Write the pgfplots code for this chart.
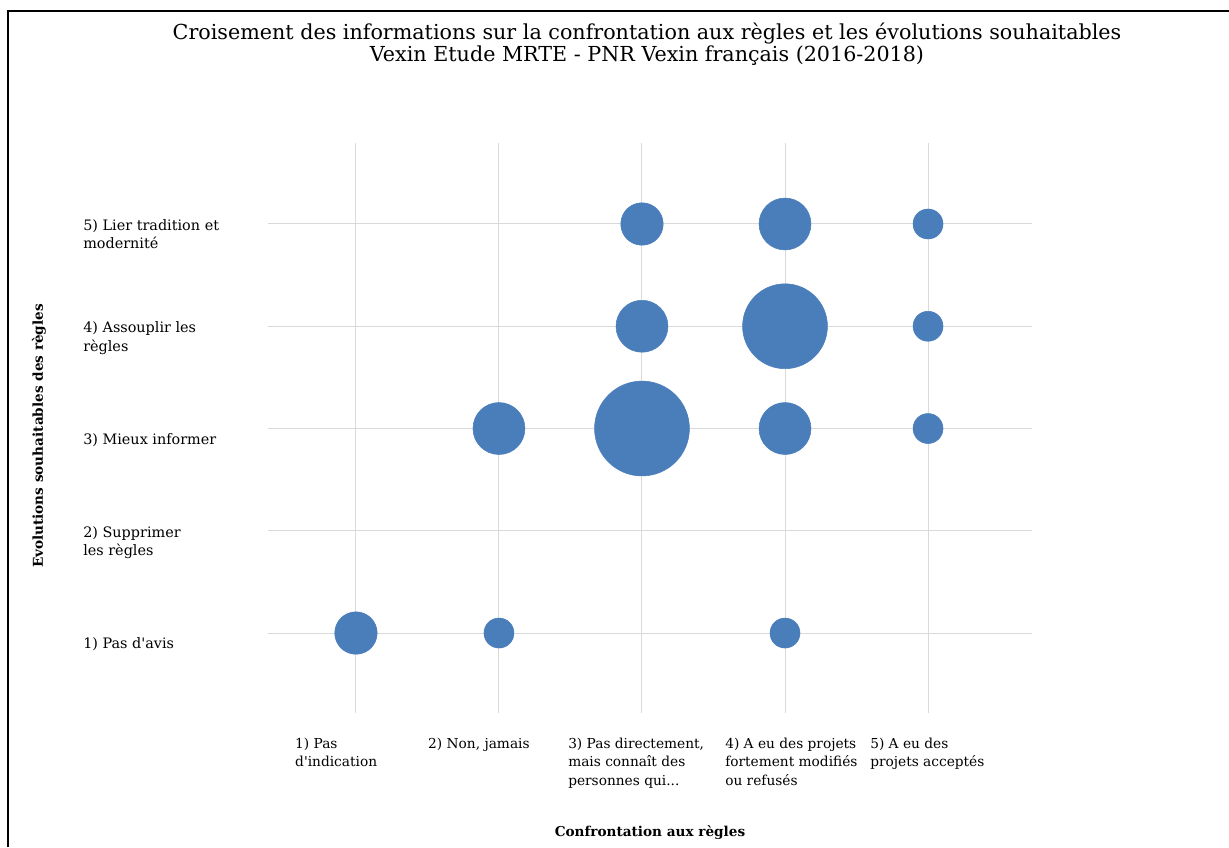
\documentclass[border=0pt]{standalone}
\usepackage{fontspec}
\setmainfont{DejaVu Serif}
\usepackage{pgfplots}
\pgfplotsset{compat=1.18}
\definecolor{bubble}{HTML}{4A7EBB}
\definecolor{gridc}{HTML}{D9D9D9}
\newcommand{\xl}[2]{\hspace*{#1}\begin{tabular}[t]{@{}l@{}}#2\end{tabular}}
\newcommand{\yl}[1]{\begin{tabular}{@{}l@{}}#1\end{tabular}}
\pgfplotstableread{
x y v
1 1 2
2 1 1
4 1 1
2 3 3
3 3 10
4 3 3
5 3 1
3 4 3
4 4 8
5 4 1
3 5 2
4 5 3
5 5 1
}\bubbles
\begin{document}
\begin{tikzpicture}[x=0.75pt,y=-0.75pt]
\useasboundingbox (0,0) rectangle (1229,847);
\draw[line width=1.5pt] (8,847) -- (8,11) -- (1229,11);
\node[font=\fontsize{15.5}{16.5}\selectfont, align=center] at (647,44)
  {Croisement des informations sur la confrontation aux règles et les évolutions souhaitables\\Vexin Etude MRTE - PNR Vexin français (2016-2018)};
\begin{axis}[
  at={(201pt,-534.75pt)}, anchor=south west,
  scale only axis, width=573pt, height=427.5pt,
  xmin=0.385, xmax=5.727, ymin=0.218, ymax=5.792,
  axis line style={draw=none}, tick style={draw=none},
  xmajorgrids, ymajorgrids, grid style={gridc, line width=0.75pt},
  xtick={1,2,3,4,5}, ytick={1,2,3,4,5},
  xticklabels={
    {\xl{3.75pt}{1) Pas\\d\textquotesingle indication}},
    {\xl{-3.75pt}{2) Non, jamais}},
    {\xl{-6pt}{3) Pas directement,\\mais connaît des\\personnes qui...}},
    {\xl{4.5pt}{4) A eu des projets\\fortement modifiés\\ou refusés}},
    {\xl{6pt}{5) A eu des\\projets acceptés}}},
  yticklabels={
    {\yl{1) Pas d\textquotesingle avis}},
    {\yl{2) Supprimer\\les règles}},
    {\yl{3) Mieux informer}},
    {\yl{4) Assouplir les\\règles}},
    {\yl{5) Lier tradition et\\modernité}}},
  xticklabel style={anchor=north west, inner sep=0pt, xshift=-49.5pt, yshift=-16.5pt, font=\fontsize{10.3}{13.9}\selectfont},
  yticklabel style={anchor=west, inner sep=0pt, xshift=-138.75pt, yshift=-9pt, font=\fontsize{10.8}{13.9}\selectfont},
  xlabel={Confrontation aux règles},
  ylabel={Evolutions souhaitables des règles},
  every axis x label/.style={at={(axis description cs:0.5,-0.2105)}, anchor=center, font=\bfseries\fontsize{10.2}{13}\selectfont},
  every axis y label/.style={at={(axis description cs:-0.2997,0.486)}, rotate=90, anchor=center, font=\bfseries\fontsize{10.2}{13}\selectfont},
  clip=false,
]
\addplot[scatter, only marks, mark=*,
  scatter/use mapped color={draw=bubble, fill=bubble},
  visualization depends on={sqrt(\thisrow{v})*11.25 \as \rad},
  scatter/@pre marker code/.append style={/tikz/mark size=\rad pt},
] table[x=x, y=y] {\bubbles};
\end{axis}
\end{tikzpicture}
\end{document}
